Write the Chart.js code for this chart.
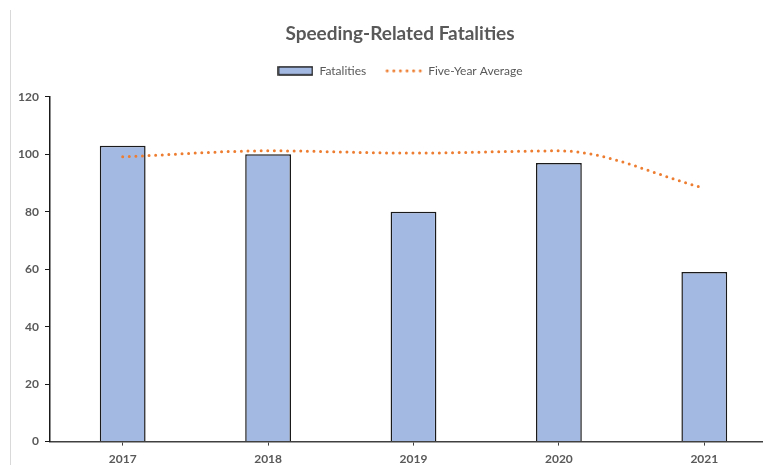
<!DOCTYPE html>
<html>
<head>
<meta charset="utf-8">
<script src="https://cdn.jsdelivr.net/npm/chart.js@4/dist/chart.umd.min.js"></script>
<style>
    html, body { margin: 0; padding: 0; background: #fff; overflow: hidden; }
    #frame {
        position: absolute;
        left: 10px;
        top: 10px;
        width: 790px;
        height: 462px;
    }
    #edge {
        position: absolute;
        left: 10px;
        top: 10px;
        width: 0;
        height: 455px;
        border-left: 1px solid #d9d9d9;
    }
</style>
</head>
<body>
<div id="edge"></div>
<div id="frame"><canvas id="speedChart" width="790" height="462"></canvas></div>
<script>
const years = ['2017', '2018', '2019', '2020', '2021'];
const fatalities = [103, 100, 80, 97, 59];
const fiveYearAverage = [99.1, 101.2, 100.4, 101.2, 88.2];
const yTicks = [0, 20, 40, 60, 80, 100, 120];

document.addEventListener('DOMContentLoaded', () => {
    const ctx = document.getElementById('speedChart').getContext('2d');
    const textColor = '#595959';
    const barColor = '#a4b9e2';
    const lineColor = '#ed7d31';

    // legend swatches drawn by hand so the dotted line shows up
    const barSwatch = document.createElement('canvas');
    barSwatch.width = 36;
    barSwatch.height = 10;
    const bctx = barSwatch.getContext('2d');
    bctx.fillStyle = barColor;
    bctx.fillRect(1, 1, 34, 8);
    bctx.strokeStyle = '#1a1a1a';
    bctx.lineWidth = 1.5;
    bctx.strokeRect(1, 1, 34, 8);

    const lineSwatch = document.createElement('canvas');
    lineSwatch.width = 38;
    lineSwatch.height = 4;
    const lctx = lineSwatch.getContext('2d');
    lctx.fillStyle = lineColor;
    for (let x = 2; x < 38; x += 6.6) {
        lctx.beginPath();
        lctx.arc(x, 2, 1.5, 0, Math.PI * 2);
        lctx.fill();
    }

    const legendGap = {
        id: 'legendGap',
        beforeInit(chart) {
            const fit = chart.legend.fit;
            chart.legend.fit = function() {
                fit.bind(chart.legend)();
                this.height += 10;
            };
        },
        afterLayout(chart) {
            // let the y tick labels spill into the left padding instead of being clipped
            chart.scales.y.left = 0;
        }
    };

    new Chart(ctx, {
        type: 'bar',
        data: {
            labels: years,
            datasets: [{
                label: 'Fatalities',
                data: fatalities,
                backgroundColor: barColor,
                borderColor: '#1a1a1a',
                borderWidth: 1.5,
                categoryPercentage: 1,
                barPercentage: 0.315,
                pointStyle: barSwatch,
                order: 2
            }, {
                type: 'line',
                label: 'Five-Year Average',
                data: fiveYearAverage,
                borderColor: lineColor,
                backgroundColor: lineColor,
                borderWidth: 3,
                borderDash: [0, 6.6],
                borderCapStyle: 'round',
                pointRadius: 0,
                pointStyle: lineSwatch,
                cubicInterpolationMode: 'monotone',
                fill: false,
                order: 1
            }]
        },
        options: {
            responsive: false,
            animation: false,
            layout: {
                padding: { top: 12, left: 13, right: 23, bottom: 0 }
            },
            plugins: {
                title: {
                    display: true,
                    text: 'Speeding-Related Fatalities',
                    color: textColor,
                    font: { family: 'Lato', size: 19, weight: 'bold' },
                    padding: { top: 0, bottom: 0 }
                },
                legend: {
                    display: true,
                    position: 'top',
                    labels: {
                        color: textColor,
                        font: { family: 'Lato', size: 12 },
                        usePointStyle: true,
                        pointStyleWidth: 36,
                        padding: 20,
                        sort: (a, b) => a.datasetIndex - b.datasetIndex
                    }
                },
                tooltip: { enabled: false }
            },
            scales: {
                x: {
                    offset: true,
                    grid: {
                        offset: false,
                        drawOnChartArea: false,
                        drawTicks: true,
                        tickLength: 4,
                        color: '#404040'
                    },
                    border: { color: '#404040', width: 1.5 },
                    ticks: {
                        color: textColor,
                        font: { family: 'Lato', size: 12, weight: 'bold' },
                        padding: 6
                    }
                },
                y: {
                    min: 0,
                    max: 120,
                    afterBuildTicks: (scale) => {
                        scale.ticks = yTicks.map(v => ({ value: v }));
                    },
                    afterFit: (scale) => {
                        scale.width = 27;
                    },
                    grid: {
                        drawOnChartArea: false,
                        drawTicks: true,
                        tickLength: 5,
                        color: '#1a1a1a'
                    },
                    border: { color: '#1a1a1a', width: 1.5 },
                    ticks: {
                        color: textColor,
                        font: { family: 'Lato', size: 12, weight: 'bold' },
                        padding: 6
                    }
                }
            }
        },
        plugins: [legendGap]
    });
});
</script>
</body>
</html>
